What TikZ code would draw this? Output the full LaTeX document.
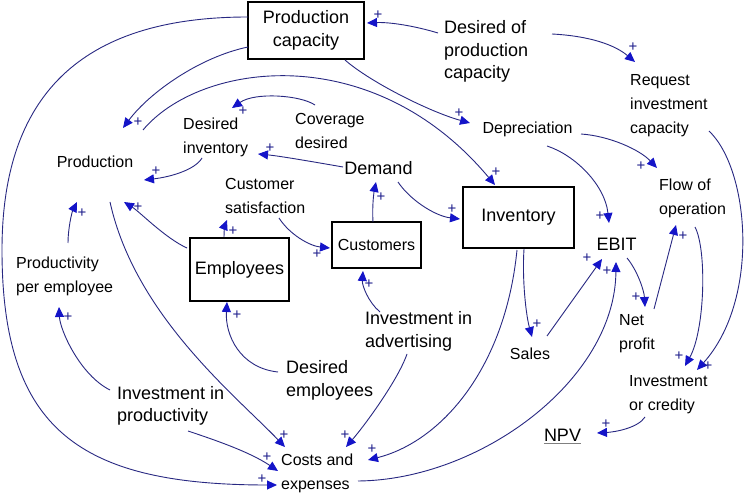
\documentclass[tikz,border=0pt]{standalone}
\usepackage{fontspec}
\setmainfont{Liberation Sans}
\usetikzlibrary{arrows.meta}
\definecolor{lineblue}{RGB}{40,40,130}
\definecolor{tipblue}{RGB}{20,20,200}
\definecolor{plusblue}{RGB}{30,30,140}
\newcommand\fsS{\fontsize{16}{24}\selectfont}
\newcommand\fsL{\fontsize{18}{22.5}\selectfont}
\newcommand\fsP{\fontsize{15}{15}\selectfont}
\tikzset{
  txtS/.style={inner sep=0pt, align=left, font=\fsS},
  txtL/.style={inner sep=0pt, align=left, font=\fsL},
  boxL/.style={draw=black, line width=1.8pt, inner sep=0pt, align=center, font=\fsL},
  boxS/.style={draw=black, line width=1.8pt, inner sep=0pt, align=center, font=\fsS},
  conn/.style={draw=lineblue, line width=0.9pt, -{Triangle[length=10pt,width=9pt,color=tipblue]}},
  pl/.style={text=plusblue, font=\fsP, inner sep=0pt}
}
\begin{document}
\begin{tikzpicture}[x=1pt,y=-1pt]
\useasboundingbox (0,0) rectangle (744,494);
\fill[white] (0,0) rectangle (744,494);
% nodes
\node[boxL, minimum width=116pt, minimum height=57pt] (pc) at (306,30.5) {Production\\capacity};
\node[txtL, anchor=west] (dpc) at (444,51.5) {Desired of\\production\\capacity};
\node[txtS, anchor=west] (ric) at (630,106) {Request\\investment\\capacity};
\node[txtS] (prod) at (95,162) {Production};
\node[txtS, anchor=west] (dinv) at (183,137) {Desired\\inventory};
\node[txtS, anchor=west] (cov) at (295,131) {Coverage\\desired};
\node[txtS] (dep) at (527.5,129) {Depreciation};
\node[txtL] (dem) at (378.5,168) {Demand};
\node[txtS, anchor=west] (csat) at (225,196) {Customer\\satisfaction};
\node[txtS, anchor=west] (flow) at (659,198) {Flow of\\operation};
\node[boxL, minimum width=111pt, minimum height=61pt] (inv) at (518.5,217.5) {Inventory};
\node[boxS, minimum width=89pt, minimum height=46pt] (cust) at (376.5,245) {Customers};
\node[boxL, minimum width=99pt, minimum height=63pt] (emp) at (239.5,269.5) {Employees};
\node[txtL] (ebit) at (616.5,244) {EBIT};
\node[txtS, anchor=west] (ppe) at (16,276.5) {Productivity\\per employee};
\node[txtL, anchor=west] (iadv) at (365,331.5) {Investment in\\advertising};
\node[txtS] (sales) at (530,354) {Sales};
\node[txtS, anchor=west] (np) at (619,334) {Net\\profit};
\node[txtL, anchor=west] (demp) at (286,380.5) {Desired\\employees};
\node[txtL, anchor=west] (ip) at (117,406) {Investment in\\productivity};
\node[txtS, anchor=west] (ioc) at (629,394.5) {Investment\\or credity};
\node[txtL] (npv) at (562.5,435) {NPV};
\draw[gray, line width=1.6pt] ([yshift=-2.5pt]npv.base west) -- ([yshift=-2.5pt]npv.base east);
\node[txtS, anchor=west] (ce) at (281,473) {Costs and\\expenses};
% connectors
\draw[conn] ([shift={(-6,-18.5)}]dpc.west) .. controls (415,26) and (390,22) .. ([shift={(61,-7.5)}]pc.center);
\draw[conn] ([shift={(108,-17.5)}]dpc.west) .. controls (590,36) and (615,45) .. ([shift={(5,-44)}]ric.west);
\draw[conn] ([shift={(-58,16.5)}]pc.center) .. controls (200,57) and (150,92) .. ([shift={(28,-34)}]prod.center);
\draw[conn] ([shift={(39,29.5)}]pc.center) .. controls (370,82) and (430,112) .. ([shift={(-57.5,-6)}]dep.center);
\draw[conn] ([shift={(48,-32)}]prod.center) .. controls (200,62) and (372,38) .. ([shift={(-23.5,-32.5)}]inv.center);
\draw[conn] ([shift={(20,-26)}]cov.west) .. controls (300,95) and (255,92) .. ([shift={(49,-29)}]dinv.west);
\draw[conn] ([shift={(-35.5,-1)}]dem.center) .. controls (320,163) and (280,156) .. ([shift={(75,17)}]dinv.west);
\draw[conn] ([shift={(19,21)}]dinv.west) .. controls (195,170) and (170,177) .. ([shift={(49,18)}]prod.center);
\draw[conn] ([shift={(-52.5,-21.5)}]emp.center) .. controls (165,238) and (140,212) .. ([shift={(29,40)}]prod.center);
\draw[conn] ([shift={(52,-33.5)}]ppe.west) .. controls (68,228) and (72,212) .. ([shift={(-18,40)}]prod.center);
\draw[conn] ([shift={(-15.5,-32.5)}]emp.center) .. controls (224,230) and (225,225) .. ([shift={(2,24)}]csat.west);
\draw[conn] ([shift={(54,22)}]csat.west) .. controls (290,235) and (310,246) .. ([shift={(-46.5,3)}]cust.center);
\draw[conn] ([shift={(-3.5,-23)}]cust.center) .. controls (372,205) and (374,192) .. ([shift={(-2.5,14)}]dem.center);
\draw[conn] ([shift={(19.5,14)}]dem.center) .. controls (410,200) and (435,216) .. ([shift={(-58.5,1.5)}]inv.center);
\draw[conn] ([shift={(15,-19.5)}]iadv.west) .. controls (368,302) and (362,285) .. ([shift={(-13.5,26)}]cust.center);
\draw[conn] ([shift={(-8,-8.5)}]demp.west) .. controls (240,368) and (225,335) .. ([shift={(-12.5,32.5)}]emp.center);
\draw[conn] ([shift={(-7,-16)}]ip.west) .. controls (80,375) and (60,330) .. ([shift={(43,30.5)}]ppe.west);
\draw[conn] ([shift={(15,40)}]prod.center) .. controls (135,315) and (235,395) .. ([shift={(4,-26)}]ce.west);
\draw[conn] ([shift={(71,25)}]ip.west) .. controls (215,440) and (250,452) .. ([shift={(-3,-2)}]ce.west);
\draw[conn] ([shift={(-58,-13.5)}]pc.center) .. controls (90,17) and (2,87) .. (2,250) .. controls (2,430) and (80,485) .. ([shift={(-4,12)}]ce.west);
\draw[conn] ([shift={(42,22.5)}]iadv.west) .. controls (398,380) and (365,425) .. ([shift={(65,-26)}]ce.west);
\draw[conn] ([shift={(-1.5,32.5)}]inv.center) .. controls (505,370) and (440,442) .. ([shift={(87,-13)}]ce.west);
\draw[conn] ([shift={(5.5,31.5)}]inv.center) .. controls (522,280) and (526,315) .. ([shift={(2,-17)}]sales.center);
\draw[conn] ([shift={(17,-18)}]sales.center) -- ([shift={(-14.5,15)}]ebit.center);
\draw[conn] ([shift={(77,8)}]ce.west) .. controls (480,480) and (615,380) .. ([shift={(-0.5,18)}]ebit.center);
\draw[conn] ([shift={(19.5,17)}]dep.center) .. controls (575,155) and (605,185) .. ([shift={(-7.5,-21)}]ebit.center);
\draw[conn] ([shift={(53.5,5)}]dep.center) .. controls (610,136) and (640,150) .. ([shift={(-2,-30)}]flow.west);
\draw[conn] ([shift={(10.5,14)}]ebit.center) .. controls (637,270) and (644,290) .. ([shift={(26,-27)}]np.west);
\draw[conn] ([shift={(35,-25)}]np.west) -- ([shift={(17,27)}]flow.west);
\draw[conn] ([shift={(36,29)}]flow.west) .. controls (707,250) and (705,330) .. ([shift={(56,-28.5)}]ioc.west);
\draw[conn] ([shift={(79,25)}]ric.west) .. controls (750,170) and (760,300) .. ([shift={(68,-24.5)}]ioc.west);
\draw[conn] ([shift={(16,22.5)}]ioc.west) .. controls (638,428) and (615,432) .. ([shift={(34.5,-2)}]npv.center);
% plus signs
\node[pl] (p1) at (378,15) {+};
\node[pl] (p2) at (633,47) {+};
\node[pl] (p0) at (138,122) {+};
\node[pl] (p3) at (459,113) {+};
\node[pl] (p4) at (496,172) {+};
\node[pl] (p5) at (243,111) {+};
\node[pl] (p6) at (270,148) {+};
\node[pl] (p7) at (156,171) {+};
\node[pl] (p8) at (138,207) {+};
\node[pl] (p9) at (82,213) {+};
\node[pl] (p10) at (233,231) {+};
\node[pl] (p11) at (317,254) {+};
\node[pl] (p12) at (381,197) {+};
\node[pl] (p13) at (452,209) {+};
\node[pl] (p14) at (369,284) {+};
\node[pl] (p15) at (237,315) {+};
\node[pl] (p16) at (68,317) {+};
\node[pl] (p17) at (284,435) {+};
\node[pl] (p18) at (267,457) {+};
\node[pl] (p19) at (262,479) {+};
\node[pl] (p20) at (345,435) {+};
\node[pl] (p21) at (372,449) {+};
\node[pl] (p22) at (537,324) {+};
\node[pl] (p23) at (587,258) {+};
\node[pl] (p24) at (607,271) {+};
\node[pl] (p25) at (600,216) {+};
\node[pl] (p26) at (641,166) {+};
\node[pl] (p27) at (636,297) {+};
\node[pl] (p28) at (683,236) {+};
\node[pl] (p29) at (679,356) {+};
\node[pl] (p30) at (708,366) {+};
\node[pl] (p31) at (606,424) {+};
\end{tikzpicture}
\end{document}
